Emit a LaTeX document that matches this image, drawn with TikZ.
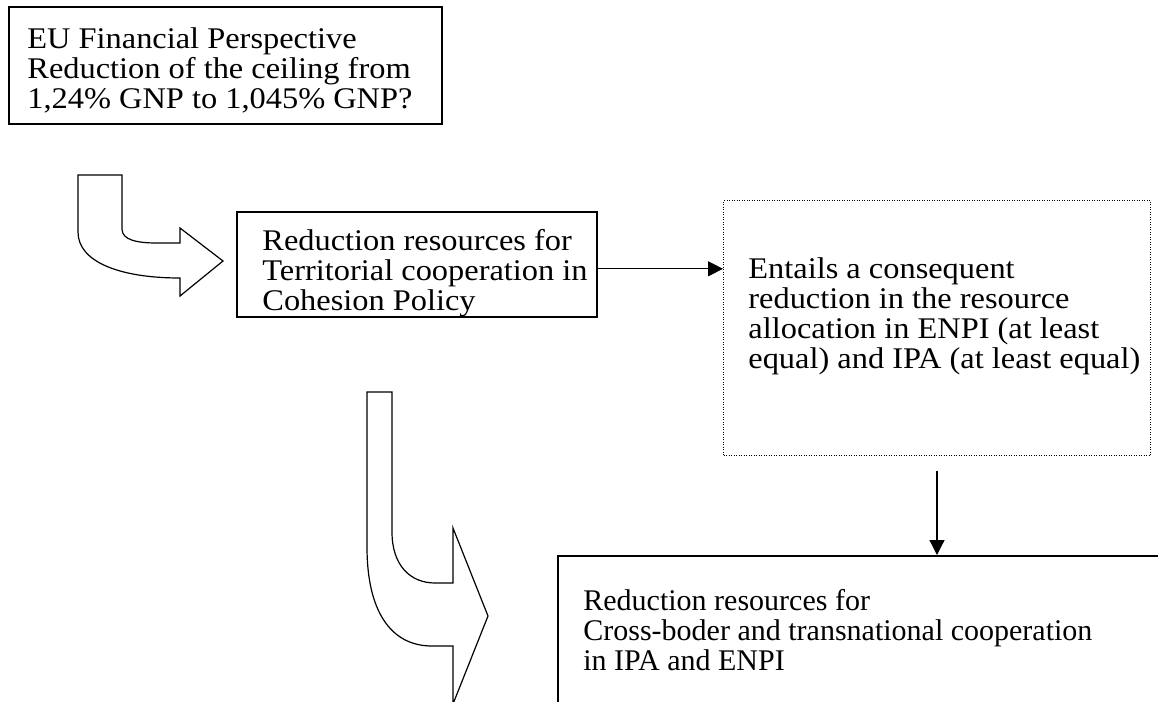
\documentclass[tikz,border=0pt]{standalone}
\usepackage{fontspec}
\setmainfont{Liberation Serif}[FakeStretch=1.08]
\newfontfamily\plainserif{Liberation Serif}
\usetikzlibrary{arrows.meta}

\tikzset{
	box/.style={draw, line width=0.8pt, anchor=north west, inner sep=0pt},
	dotbox/.style={draw, line width=0.5pt, dash pattern=on 0.5pt off 0.75pt, anchor=north west, inner sep=0pt},
	txt/.style={anchor=north west, inner sep=0pt, align=left, font=\fontsize{15}{15}\selectfont},
	arr/.style={line width=0.6pt, -{Triangle[length=7.5pt,width=7.5pt]}},
	bent/.style={draw, line width=0.6pt, line join=miter, fill=white}
}

\begin{document}
\begin{tikzpicture}[x=0.5pt, y=-0.5pt]
		\useasboundingbox (0,0) rectangle (1158,702);
		\fill[white] (0,0) rectangle (1158,702);
		\clip (0,0) rectangle (1158,702);

		% boxes
		\node (fin)[box, minimum width=216.5pt, minimum height=58.5pt] at (8,6) {};
		\node (fund)[box, minimum width=180pt, minimum height=52.5pt] at (236,211) {};
		\node (ent)[dotbox, minimum width=213.5pt, minimum height=127.5pt] at (723,200) {};
		\node (cbc)[box, minimum width=330pt, minimum height=100pt] at (557,555) {};

		% texts
		\node (fintxt)[txt] at ([shift={(19,21)}]fin.north west) {EU Financial Perspective\\Reduction of the ceiling from\\1,24\% GNP to 1,045\% GNP?};
		\node (fundtxt)[txt] at ([shift={(26,18)}]fund.north west) {Reduction resources for\\Territorial cooperation in\\Cohesion Policy};
		\node (enttxt)[txt] at ([shift={(25,57)}]ent.north west) {Entails a consequent\\reduction in the resource\\allocation in ENPI (at least\\equal) and IPA (at least equal)};
		\node (cbctxt)[txt, font=\plainserif\fontsize{15}{15}\selectfont] at ([shift={(26,34)}]cbc.north west) {Reduction resources for\\Cross-boder and transnational cooperation\\in IPA and ENPI};

		% connectors
		\draw[arr] ([yshift=-2.25pt]fund.east) -- ([yshift=-2.25pt]fund.east -| ent.west);
		\draw[arr] ([yshift=-7.5pt]ent.south) -- (ent.south |- cbc.north);

		% bent arrows
		\draw[bent] (78,175) -- (122,175) -- (122,229) .. controls (122,240) and (137,243) .. (157,243)
			-- (180,243) -- (180,228) -- (223,261) -- (180,296) -- (180,278)
			.. controls (120,278) and (78,262) .. (78,232) -- cycle;
		\draw[bent] (367,392) -- (392,392) -- (392,532) .. controls (392,565) and (410,583) .. (435,583)
			-- (453,583) -- (453,528) -- (488,616) -- (453,704) -- (453,646) -- (432,646)
			.. controls (390,646) and (367,610) .. (367,547) -- cycle;
	\end{tikzpicture}
\end{document}
